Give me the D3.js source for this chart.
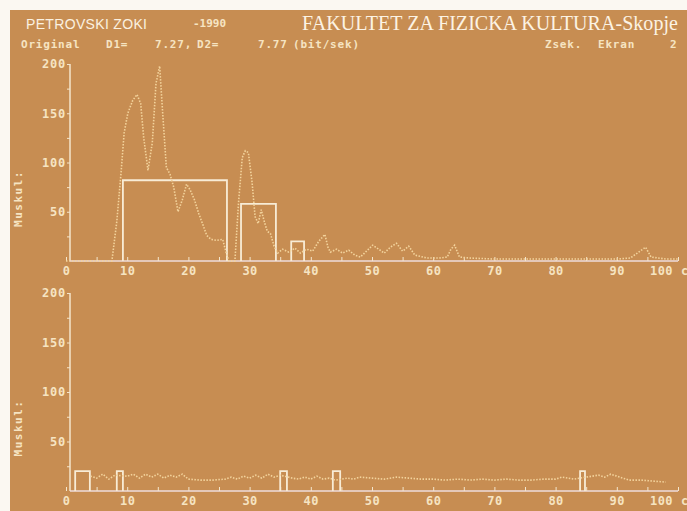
<!DOCTYPE html>
<html>
<head>
<meta charset="utf-8">
<script src="https://cdn.jsdelivr.net/npm/d3@7"></script>
<style>
  body { margin: 0; background: #fff; }
  svg { display: block; }
  .lbl { font-family: "DejaVu Sans Mono", monospace; font-weight: bold; fill: #f6e4c2; }
</style>
</head>
<body>
<div id="chart"></div>
<script>
let width = 687,
    height = 511;

// top panel: signal (x in sec, value) and the averaged boxes
const topX = [0, 7.5, 8.3, 9, 9.5, 10.1, 10.9, 11.6, 12.2, 12.7, 13.4, 14.1, 14.7, 15.3, 15.8, 16.4, 17, 17.6, 18.3, 19, 19.7,
  20.3, 21, 21.7, 22.3, 23, 23.7, 24.6, 25.6, 26.1, 26.6, 27.6, 28.2, 28.8, 29.3, 29.8, 30.4, 30.9, 31.4, 31.9, 32.4, 32.9,
  33.4, 34, 34.6, 35.4, 36.4, 37.4, 38.3, 39.3, 40.3, 41.3, 42.3, 42.8, 43.2, 44.2, 45.2, 46.2, 47.2, 48.1, 49.1, 50.1, 51.1,
  52, 53, 54, 55, 56, 57, 59, 61, 62.3, 62.9, 63.5, 64.3, 66, 70, 75, 80, 85, 90, 92.2, 93.8, 94.7, 95.6, 98, 100];
const topY = [0, 0, 40, 90, 130, 150, 163, 169, 160, 125, 92, 120, 180, 198, 150, 95, 88, 75, 50, 62, 78,
  72, 62, 48, 38, 26, 22, 21, 22, 10, 0, 0, 60, 105, 112, 110, 80, 45, 38, 52, 40, 30,
  28, 15, 8, 12, 9, 13, 8, 12, 10, 20, 27, 14, 9, 12, 8, 11, 6, 4, 10, 16, 12,
  8, 14, 18, 10, 15, 6, 3, 3, 4, 12, 16, 4, 3, 2, 2, 2, 2, 2, 3, 10, 14, 4, 2, 2];
const topBoxStart = [9.3, 28.6, 36.8];
const topBoxEnd = [26.3, 34.3, 38.9];
const topBoxValue = [82, 58, 20];

// bottom panel
const botX = [4, 5, 6, 7, 8, 10, 11, 12, 13, 14, 15, 16, 17, 18, 19, 20, 22, 24, 26, 27, 28, 29, 30, 31, 32, 33, 34, 35,
  37, 38, 39, 40, 41, 42, 43, 44, 46, 47, 48, 50, 52, 54, 56, 58, 60, 62, 64, 66, 68, 70, 72, 74, 76, 78, 80, 81, 82,
  83, 84, 85, 87, 88, 89, 90, 91, 92, 94, 96, 98];
const botY = [15, 13, 17, 12, 16, 15, 17, 13, 17, 14, 17, 13, 16, 14, 17, 12, 11, 11, 12, 14, 12, 15, 13, 16, 13, 17, 14, 16,
  13, 12, 14, 12, 15, 12, 13, 11, 13, 12, 14, 13, 12, 14, 13, 12, 12, 11, 12, 11, 12, 11, 12, 11, 11, 12, 12, 14, 13,
  12, 13, 14, 16, 14, 17, 15, 13, 11, 11, 10, 9];
const botBoxStart = [1.5, 8.3, 35, 43.6, 84];
const botBoxEnd = [3.9, 9.3, 36.1, 44.8, 84.8];
const botBoxValue = [20, 20, 20, 20, 20];

const xTicks = [0, 5, 10, 15, 20, 25, 30, 35, 40, 45, 50, 55, 60, 65, 70, 75, 80, 85, 90, 95, 100];
const yTicks = [25, 50, 75, 100, 125, 150, 175, 200];

// second header line, split in pieces like on the screen
const infoText = ["Original", "D1=", "7.27,", "D2=", "7.77", "(bit/sek)", "Zsek.", "Ekran", "2"];
const infoPos = [21, 106, 155, 197, 258, 293, 545, 598, 670];

const svg = d3.select("#chart").append("svg")
    .attr("width", width)
    .attr("height", height);

// background (scan with white border top/left)
svg.append("rect").attr("width", width).attr("height", height).attr("fill", "#fbf8f2");
svg.append("rect").attr("x", 10).attr("y", 10).attr("width", width - 10).attr("height", height - 10)
    .attr("fill", "#c78d52");

// header
svg.append("text").attr("x", 26).attr("y", 29).attr("textLength", 121)
    .style("font-family", "Liberation Sans Narrow, Liberation Sans, sans-serif").style("font-size", "14px")
    .style("fill", "#fbf1e0").text("PETROVSKI ZOKI");
svg.append("text").attr("x", 193).attr("y", 27)
    .attr("class", "lbl").style("font-size", "11px").text("-1990");
svg.append("text").attr("x", 302).attr("y", 30).attr("textLength", 376)
    .style("font-family", "Liberation Serif, serif").style("font-size", "20px")
    .style("fill", "#fcf3e4").text("FAKULTET ZA FIZICKA KULTURA-Skopje");
svg.selectAll(".info").data(infoText).enter().append("text")
    .attr("class", "lbl info").style("font-size", "11px").style("letter-spacing", "0.8px")
    .attr("x", (d, i) => infoPos[i]).attr("y", 48)
    .text(d => d);

let x = d3.scaleLinear().domain([0, 100]).range([66, 678]);

function panel(y0, y200, xs, ys, bs, be, bv) {
  let y = d3.scaleLinear().domain([0, 200]).range([y0, y200]);
  let g = svg.append("g");

  // y axis
  let ya = g.append("g").attr("transform", "translate(70,0)")
      .call(d3.axisLeft(y).tickValues(yTicks).tickSize(3).tickPadding(1)
        .tickFormat(d => d % 50 === 0 ? d : ""));
  ya.select(".domain").attr("stroke", "#f4e6cc").attr("stroke-width", 1.5)
      .attr("d", "M0," + y(0) + "V" + y(200));
  ya.selectAll(".tick line").attr("stroke", "#f4e6cc");
  ya.selectAll("text").attr("class", "lbl").style("font-size", "12px").style("letter-spacing", "0.8px");

  // x axis
  let xa = g.append("g").attr("transform", "translate(0," + y0 + ")")
      .call(d3.axisBottom(x).tickValues(xTicks).tickSize(-4).tickPadding(5)
        .tickFormat(d => d % 10 === 0 ? d : ""));
  xa.select(".domain").attr("stroke", "#eedcdc").attr("stroke-width", 1.5)
      .attr("d", "M70,0H678");
  xa.selectAll(".tick line").attr("stroke", "#f4e6cc");
  xa.selectAll("text").attr("class", "lbl").style("font-size", "12px").style("letter-spacing", "0.5px")
      .attr("dx", d => d === 100 ? -17 : 0);
  g.append("text").attr("class", "lbl").attr("x", 681).attr("y", y0 + 14)
      .style("font-size", "12px").text("c");

  // "Muskul:" label
  g.append("text").attr("class", "lbl").style("font-size", "11px").style("letter-spacing", "1.5px")
      .attr("text-anchor", "middle")
      .attr("transform", "translate(22," + ((y0 + y200) / 2 + 36) + ") rotate(-90)")
      .text("Muskul:");

  // boxes
  g.selectAll(".box").data(bv).enter().append("path")
      .attr("class", "box")
      .attr("fill", "none").attr("stroke", "#f8ecd6").attr("stroke-width", 1.8)
      .attr("d", (v, i) => "M" + x(bs[i]) + "," + y(0) + "V" + y(v) + "H" + x(be[i]) + "V" + y(0));

  // dotted signal
  let line = d3.line().x((d, i) => x(xs[i])).y(d => y(d));
  g.append("path").datum(ys)
      .attr("fill", "none").attr("stroke", "#f3d39c").attr("stroke-width", 1.6)
      .attr("stroke-dasharray", "1.5,1.5")
      .attr("d", line);
}

panel(261, 64, topX, topY, topBoxStart, topBoxEnd, topBoxValue);
panel(491, 293, botX, botY, botBoxStart, botBoxEnd, botBoxValue);
</script>
</body>
</html>
